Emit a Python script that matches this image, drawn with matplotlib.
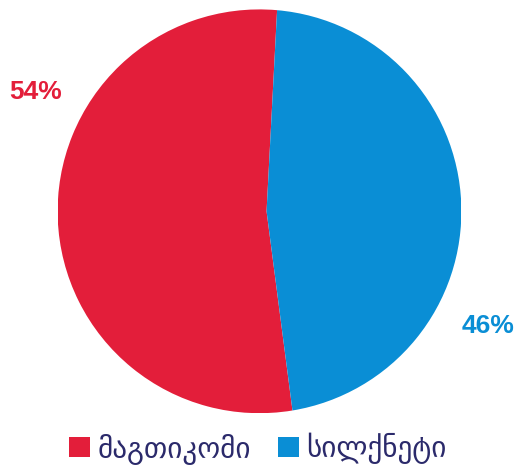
import matplotlib.pyplot as plt
from matplotlib.patches import Patch, PathPatch
from matplotlib.path import Path

# data
companies = ['მაგთიკომი', 'სილქნეტი']
shares = [54, 46]
pct_labels = ['54%', '46%']
colors = ['#E31E3A', '#0A8ED5']

fig = plt.figure(figsize=(5.19, 4.68), dpi=100)
ax = fig.add_axes([0.111, 0.117, 0.778, 0.863])

wedges, _ = ax.pie(shares, colors=colors, startangle=85, counterclock=True,
                   radius=1, wedgeprops={'linewidth': 0})

# the original chart has the meeting point of the slices a bit right of centre
shift = 0.035
for w in wedges:
    p = w.get_path()
    verts = p.vertices.copy()
    near = (abs(verts[:, 0]) < 1e-6) & (abs(verts[:, 1]) < 1e-6)
    verts[near, 0] += shift
    ax.add_patch(PathPatch(Path(verts, p.codes), facecolor=w.get_facecolor(),
                           edgecolor='none', transform=w.get_transform()))
    w.remove()

ax.set_xlim(-1, 1)
ax.set_ylim(-1, 1)
ax.set_aspect('equal')

# percentage labels outside the pie
label_pos = [(-1.11, 0.59), (1.13, -0.57)]
for (x, y), txt, c in zip(label_pos, pct_labels, colors):
    ax.text(x, y, txt, color=c, fontsize=19, fontweight='bold',
            family='Liberation Sans', ha='center', va='center',
            clip_on=False)

# legend
handles = [Patch(facecolor=c, edgecolor='none') for c in colors]
fig.legend(handles, companies, loc='center', ncol=2,
           bbox_to_anchor=(0.497, 0.042), frameon=False,
           prop={'family': 'DejaVu Sans', 'size': 21},
           labelcolor='#2B2A6B', handlelength=0.7, handleheight=0.7,
           handletextpad=0.25, columnspacing=0.95,
           borderaxespad=0, borderpad=0)

fig.savefig('out.png', dpi=100)
